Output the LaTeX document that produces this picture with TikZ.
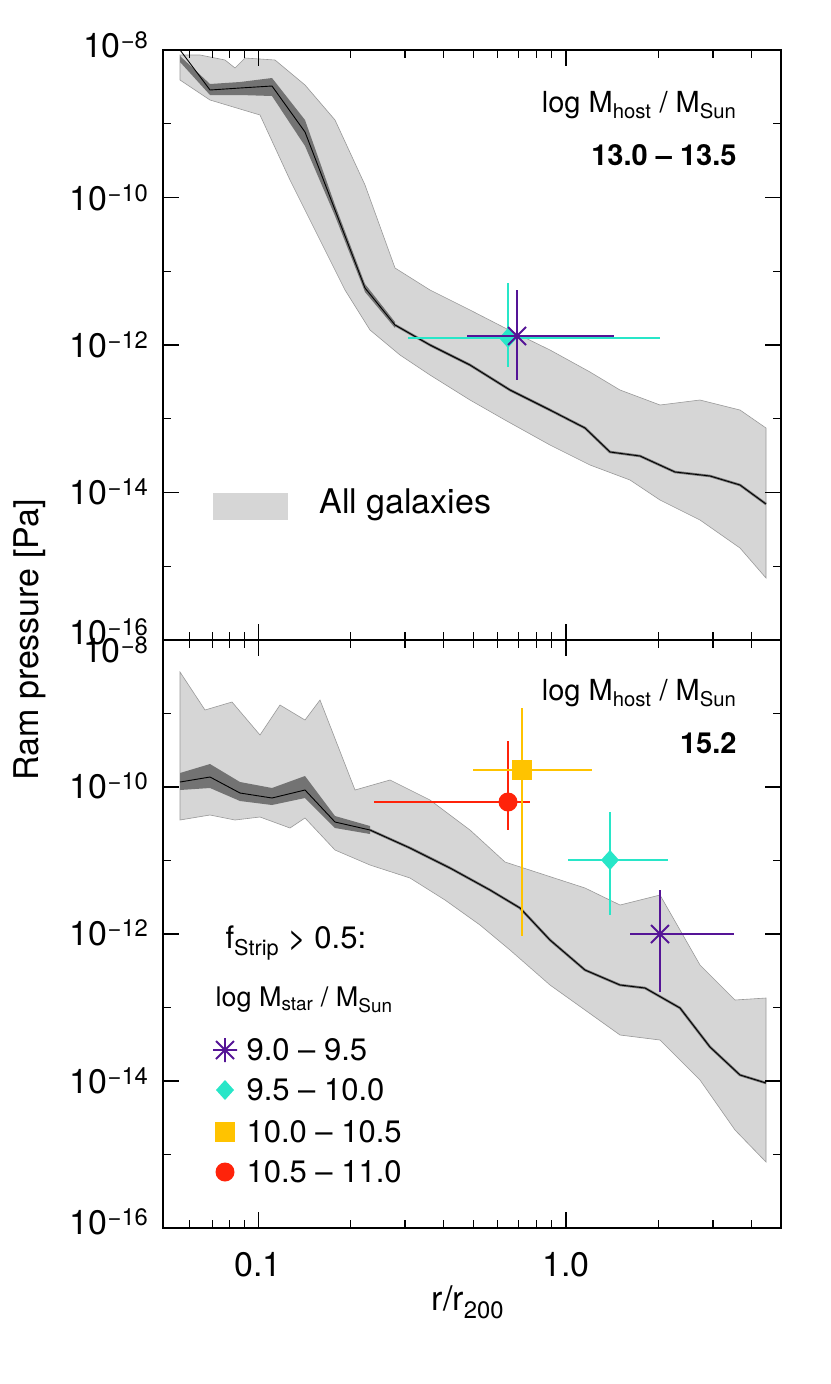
\documentclass[tikz,border=0pt]{standalone}
\usepackage{fontspec}
\setmainfont{TeX Gyre Heros}
\newcommand{\sub}[1]{\textsubscript{#1}}
\newcommand{\supr}[1]{\textsuperscript{#1}}
\begin{document}
\begin{tikzpicture}[x=1pt,y=-1pt,
  band/.style={fill=black!16,draw=black!40,line width=0.6pt},
  errp/.style={line width=1.6pt},
  lab/.style={font=\fontsize{34}{36}\selectfont},
  small/.style={font=\fontsize{29}{31}\selectfont},
  leg/.style={font=\fontsize{31}{33}\selectfont}]
\useasboundingbox (0,0) rectangle (830,1384);
\definecolor{purp}{RGB}{85,20,150}
\definecolor{cyanc}{RGB}{40,230,200}
\definecolor{yel}{RGB}{255,195,0}
\definecolor{redc}{RGB}{255,35,10}
% ---------- top panel
\begin{scope}
\clip (163,50) rectangle (781,640);
\fill[band] (180,55) -- (200,55) -- (225,60) -- (235,68) -- (245,58) -- (275,60) -- (305,85) -- (335,120) -- (365,185) -- (395,268) -- (430,290) -- (470,310) -- (505,328) -- (550,350) -- (590,372) -- (620,390) -- (660,405) -- (700,400) -- (740,410) -- (766,428)
 -- (766,578) -- (740,548) -- (700,520) -- (660,500) -- (630,480) -- (590,465) -- (550,445) -- (505,420) -- (470,400) -- (430,375) -- (400,355) -- (370,330) -- (345,290) -- (320,240) -- (290,180) -- (260,115) -- (210,100) -- (180,80) -- cycle;
\fill[black!55] (180,56) -- (210,84) -- (240,82) -- (272,78) -- (305,120) -- (335,205) -- (365,284) -- (395,322) -- (395,328) -- (365,292) -- (335,216) -- (305,146) -- (272,96) -- (240,95) -- (210,95) -- (180,62) -- cycle;
\draw[black!55,line width=2.5pt] (395,325) -- (430,345) -- (470,365) -- (510,390) -- (550,410) -- (585,428) -- (610,452) -- (640,456) -- (675,472) -- (710,476) -- (740,485) -- (766,504);
\draw[black,line width=0.9pt] (180,50) -- (210,90) -- (240,88) -- (272,86) -- (305,132) -- (335,210) -- (365,288) -- (395,325) -- (430,345) -- (470,365) -- (510,390) -- (550,410) -- (585,428) -- (610,452) -- (640,456) -- (675,472) -- (710,476) -- (740,485) -- (766,504);
\end{scope}
% top points
\draw[cyanc,errp] (408,338) -- (660,338) (508,283) -- (508,367);
\fill[cyanc] (508,328) -- (517,338) -- (508,348) -- (499,338) -- cycle;
\draw[purp,errp] (467,336) -- (614,336) (517,290) -- (517,380);
\draw[purp,line width=1.8pt] (505,336) -- (529,336) (517,324) -- (517,348) (508,327) -- (526,345) (508,345) -- (526,327);
\fill[black!16] (213,493) rectangle (288,520);
\node[anchor=west,lab] (allg) at (316,505) {All galaxies};
\node[small,anchor=east] (mh1) at (740,105) {log M\sub{host} / M\sub{Sun}};
\node[small,anchor=east,font=\fontsize{29}{31}\selectfont\bfseries] (r1) at (740,155) {13.0 – 13.5};
% ---------- bottom panel
\begin{scope}
\clip (163,640) rectangle (781,1228);
\fill[band] (180,672) -- (205,710) -- (232,702) -- (260,735) -- (280,705) -- (305,720) -- (320,700) -- (355,790) -- (390,780) -- (430,800) -- (470,830) -- (505,862) -- (545,875) -- (585,888) -- (620,905) -- (660,895) -- (700,965) -- (735,1000) -- (766,998)
 -- (766,1162) -- (735,1130) -- (700,1080) -- (660,1040) -- (620,1035) -- (585,1010) -- (550,985) -- (510,950) -- (480,925) -- (445,900) -- (410,878) -- (370,865) -- (335,850) -- (305,818) -- (290,828) -- (260,817) -- (235,820) -- (210,815) -- (180,820) -- cycle;
\fill[black!55] (180,773) -- (210,764) -- (240,782) -- (272,788) -- (305,776) -- (335,816) -- (370,826) -- (370,834) -- (335,828) -- (305,798) -- (272,805) -- (240,801) -- (210,788) -- (180,790) -- cycle;
\draw[black!55,line width=2.5pt] (370,830) -- (410,848) -- (450,868) -- (490,890) -- (520,908) -- (550,940) -- (585,970) -- (620,985) -- (645,988) -- (680,1008) -- (710,1047) -- (740,1075) -- (766,1083);
\draw[black,line width=0.9pt] (180,782) -- (210,777) -- (240,793) -- (272,798) -- (305,790) -- (335,822) -- (370,830) -- (410,848) -- (450,868) -- (490,890) -- (520,908) -- (550,940) -- (585,970) -- (620,985) -- (645,988) -- (680,1008) -- (710,1047) -- (740,1075) -- (766,1083);
\end{scope}
% bottom points
\draw[redc,errp] (374,802) -- (530,802) (508,741) -- (508,830);
\fill[redc] (508,802) circle (9.5);
\draw[yel,errp] (473,770) -- (592,770) (522,708) -- (522,936);
\fill[yel] (512,760) rectangle (532,780);
\draw[cyanc,errp] (568,860) -- (668,860) (610,812) -- (610,915);
\fill[cyanc] (610,850) -- (619,860) -- (610,870) -- (601,860) -- cycle;
\draw[purp,errp] (630,934) -- (734,934) (660,890) -- (660,992);
\draw[purp,line width=1.8pt] (648,934) -- (672,934) (660,922) -- (660,946) (651,925) -- (669,943) (651,943) -- (669,925);
\node[small,anchor=east] (mh2) at (740,693) {log M\sub{host} / M\sub{Sun}};
\node[small,anchor=east,font=\fontsize{29}{31}\selectfont\bfseries] (r2) at (740,743) {15.2};
% legend
\node[anchor=west,leg] (fs) at (222,943) {f\sub{Strip} > 0.5:};
\node[small,anchor=west,font=\fontsize{27}{29}\selectfont] (lms) at (212,1000) {log M\sub{star} / M\sub{Sun}};
\draw[purp,line width=1.8pt] (213,1050) -- (237,1050) (225,1038) -- (225,1062) (216,1041) -- (234,1059) (216,1059) -- (234,1041);
\fill[cyanc] (225,1080) -- (234,1090) -- (225,1100) -- (216,1090) -- cycle;
\fill[yel] (215,1122) rectangle (235,1142);
\fill[redc] (225,1172) circle (9.5);
\node[anchor=west,leg] (l1) at (243,1050) {9.0 – 9.5};
\node[anchor=west,leg] (l2) at (243,1090) {9.5 – 10.0};
\node[anchor=west,leg] (l3) at (243,1132) {10.0 – 10.5};
\node[anchor=west,leg] (l4) at (243,1172) {10.5 – 11.0};
% frames and ticks
\draw[line width=1.3pt] (163,50) rectangle (781,1228) (163,640) -- (781,640);
\foreach \top/\bot in {50/640,640/1228}{
  \foreach \v in {0.06,0.07,0.08,0.09,0.2,0.3,0.4,0.5,0.6,0.7,0.8,0.9,2,3,4,5}{
    \pgfmathsetmacro\xx{566+308*ln(\v)/ln(10)}
    \draw[line width=1.1pt] (\xx,\bot) -- ++(0,-8) (\xx,\top) -- ++(0,8);}
  \foreach \v in {0.1,1}{
    \pgfmathsetmacro\xx{566+308*ln(\v)/ln(10)}
    \draw[line width=1.1pt] (\xx,\bot) -- ++(0,-16) (\xx,\top) -- ++(0,16);}
  \foreach \k in {0,...,8}{
    \pgfmathsetmacro\yy{\top+\k*(\bot-\top)/8}
    \pgfmathsetmacro\ll{mod(\k,2)==0 ? 16 : 8}
    \draw[line width=1.1pt] (163,\yy) -- ++(\ll,0) (781,\yy) -- ++(-\ll,0);}
}
\foreach \e/\y in {8/45,10/198,12/345,14/492,16/632}
  \node[lab,anchor=east] (ta\e) at (152,\y) {10\supr{−\e}};
\foreach \e/\y in {8/650,10/786,12/933,14/1081,16/1222}
  \node[lab,anchor=east] (tb\e) at (152,\y) {10\supr{−\e}};
\node[lab] (x1) at (258,1265) {0.1};
\node[lab] (x2) at (566,1265) {1.0};
\node[lab] (xl) at (468,1302) {r/r\sub{200}};
\node[lab,rotate=90] (yl) at (30,640) {Ram pressure [Pa]};
\end{tikzpicture}
\end{document}
